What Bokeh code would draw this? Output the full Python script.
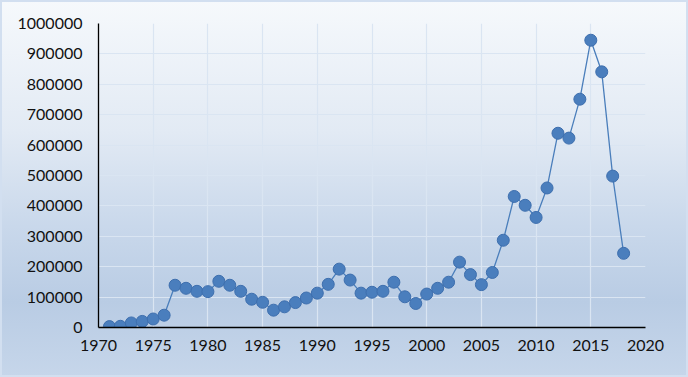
from bokeh.plotting import figure
from bokeh.models import Range1d, FixedTicker, BasicTickFormatter
from bokeh.embed import file_html
from bokeh.resources import INLINE

years = list(range(1971, 2019))
values = [3000, 4000, 15000, 20000, 28000, 40500, 139000, 129000, 119000, 118000,
          152000, 139000, 119000, 93000, 83000, 57000, 68000, 82000, 97000, 113000,
          142000, 192000, 156000, 113000, 116000, 119000, 149000, 101000, 79000, 110000,
          129000, 149000, 215000, 174000, 141000, 181000, 287000, 431000, 402000, 362000,
          459000, 639000, 623000, 751000, 945000, 841000, 498000, 244000]
x_ticks = [1970, 1975, 1980, 1985, 1990, 1995, 2000, 2005, 2010, 2015, 2020]
y_ticks = [0, 100000, 200000, 300000, 400000, 500000, 600000, 700000, 800000, 900000, 1000000]

p = figure(width=688, height=377, output_backend="svg", toolbar_location=None,
           x_range=Range1d(1970, 2020), y_range=Range1d(0, 1000000),
           min_border_left=98, min_border_right=43, min_border_top=23, min_border_bottom=50)
p.styles = {
    "background": "linear-gradient(180deg, #f6f9fc 0%, #e2eaf4 35%, #c9d8eb 60%, #b9cce4 80%, #c6d6ea 100%)",
    "box-shadow": "inset 0 0 0 2px #d2dff0",
}
p.border_fill_alpha = 0
p.background_fill_alpha = 0
p.outline_line_color = None

for ax in (p.xaxis[0], p.yaxis[0]):
    ax.axis_line_color = "black"
    ax.axis_line_width = 1.3
    ax.major_tick_in = 0
    ax.major_tick_out = 0
    ax.minor_tick_in = 0
    ax.minor_tick_out = 0
    ax.major_label_text_font = "Lato"
    ax.major_label_text_font_size = "16px"
    ax.major_label_text_color = "#111111"

p.xaxis[0].ticker = FixedTicker(ticks=x_ticks)
p.yaxis[0].ticker = FixedTicker(ticks=y_ticks)
p.yaxis[0].formatter = BasicTickFormatter(use_scientific=False)
p.xaxis[0].major_label_standoff = 12
p.yaxis[0].major_label_standoff = 16

p.xgrid.ticker = FixedTicker(ticks=x_ticks)
p.ygrid.ticker = FixedTicker(ticks=y_ticks)
for g in (p.xgrid[0], p.ygrid[0]):
    g.grid_line_color = "#dae5f2"
    g.grid_line_width = 1.2

p.line(years, values, line_color="#4a7ebb", line_width=1.3)
p.scatter(years, values, size=12, fill_color="#4a7ebd", line_color="#3e6fae", line_width=1)

open("out.html", "w").write(file_html(p, INLINE))
